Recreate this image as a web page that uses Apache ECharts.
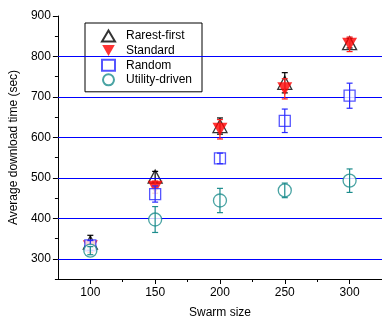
<!DOCTYPE html>
<html><head><meta charset="utf-8">
<script src="https://cdn.jsdelivr.net/npm/echarts@6/dist/echarts.min.js"></script>
<style>html,body{margin:0;padding:0;background:#fff}#c{width:382px;height:324px}</style>
</head><body><div id="c"></div>
<script>
const swarm = [100, 150, 200, 250, 300];
const rarestFirst = [340, 503, 628, 735, 833];
const rarestErr   = [18, 13, 20, 25, 12];
const standard    = [330, 477, 620, 720, 830];
const standardErr = [15, 15, 24, 25, 18];
const random      = [333, 460, 548, 641, 703];
const randomErr   = [12, 20, 13, 29, 31];
const utility     = [320, 397, 444, 469, 493];
const utilityErr  = [10, 32, 30, 18, 29];
const xMajor = [100, 150, 200, 250, 300];
const xMinor = [125, 175, 225, 275];
const yMajor = [300, 400, 500, 600, 700, 800, 900];
const yMinor = [250, 350, 450, 550, 650, 750, 850];
const yGrid  = [300, 400, 500, 600, 700, 800];

const FONT = 'Liberation Sans';
const INV_TRI = 'path://M0,0 L16,0 L8,14 Z';
const chart = echarts.init(document.getElementById('c'));

function pts(vals){ return swarm.map((x,i)=>[x, vals[i]]); }
function errs(vals, e){ return swarm.map((x,i)=>[x, vals[i]-e[i], vals[i]+e[i]]); }
function errSeries(name, vals, e, color, z){
  return {
    type:'custom', name: name+'_err', silent:true, z:z,
    data: errs(vals, e),
    encode:{x:0, y:[1,2]},
    renderItem:function(params, api){
      const lo = api.coord([api.value(0), api.value(1)]);
      const hi = api.coord([api.value(0), api.value(2)]);
      const w = 3;
      const st = {stroke: color, lineWidth: 1.2};
      return {type:'group', children:[
        {type:'line', shape:{x1:lo[0], y1:lo[1], x2:hi[0], y2:hi[1]}, style:st},
        {type:'line', shape:{x1:lo[0]-w, y1:lo[1], x2:lo[0]+w, y2:lo[1]}, style:st},
        {type:'line', shape:{x1:hi[0]-w, y1:hi[1], x2:hi[0]+w, y2:hi[1]}, style:st}
      ]};
    }
  };
}

const option = {
  animation:false,
  backgroundColor:'#fff',
  grid:{left:55, right:0, top:16, bottom:41},
  legend:{
    orient:'vertical', left:85, top:23,
    padding:[6, 10, 5, 16], itemGap:0.6,
    itemWidth:13, itemHeight:11,
    borderColor:'#000', borderWidth:1, backgroundColor:'#fff',
    textStyle:{fontFamily:FONT, fontSize:12, color:'#000', padding:[0,0,0,6], lineHeight:14},
    data:['Rarest-first','Standard','Random','Utility-driven']
  },
  xAxis:[{
    type:'value', min:75, max:325,
    name:'Swarm size', nameLocation:'middle', nameGap:28,
    nameTextStyle:{fontFamily:FONT, fontSize:12, color:'#000'},
    axisLine:{show:true, onZero:false, lineStyle:{color:'#000', width:1}},
    axisTick:{show:true, length:5, customValues:xMajor, lineStyle:{color:'#000'}},
    axisLabel:{customValues:xMajor, fontFamily:FONT, fontSize:12, color:'#000', margin:8},
    splitLine:{show:false}
  },{
    type:'value', min:75, max:325, position:'bottom',
    axisLine:{show:false},
    axisTick:{show:true, length:3, customValues:xMinor, lineStyle:{color:'#000'}},
    axisLabel:{show:false},
    splitLine:{show:false}
  }],
  yAxis:[{
    type:'value', min:250, max:900,
    name:'Average download time (sec)', nameLocation:'middle', nameGap:35,
    nameTextStyle:{fontFamily:FONT, fontSize:12, color:'#000'},
    axisLine:{show:true, onZero:false, lineStyle:{color:'#000', width:1}},
    axisTick:{show:true, length:5, customValues:yMajor, lineStyle:{color:'#000'}},
    axisLabel:{customValues:yMajor, fontFamily:FONT, fontSize:12, color:'#000', margin:7},
    splitLine:{show:false}
  },{
    type:'value', min:250, max:900, position:'left',
    axisLine:{show:false},
    axisTick:{show:true, length:3, customValues:yMinor, lineStyle:{color:'#000'}},
    axisLabel:{show:false},
    splitLine:{show:false}
  }],
  series:[
    {
      type:'line', name:'grid', data:[], silent:true, z:1,
      markLine:{
        silent:true, symbol:'none', animation:false,
        label:{show:false},
        lineStyle:{color:'#0000ff', width:1.2, type:'solid'},
        data: yGrid.map(v=>({yAxis:v}))
      }
    },
    {
      type:'scatter', name:'Rarest-first', data:pts(rarestFirst), z:2,
      symbol:'triangle', symbolSize:[14,13],
      itemStyle:{color:'#fff', borderColor:'#000', borderWidth:1.3}
    },
    errSeries('Rarest-first', rarestFirst, rarestErr, '#000', 3),
    {
      type:'scatter', name:'Standard', data:pts(standard), z:4,
      symbol:INV_TRI, symbolSize:[15,13], symbolKeepAspect:false,
      itemStyle:{color:'#ff0000', borderColor:'#ff0000', borderWidth:0}
    },
    errSeries('Standard', standard, standardErr, '#ff2020', 5),
    {
      type:'scatter', name:'Random', data:pts(random), z:6,
      symbol:'rect', symbolSize:11,
      itemStyle:{color:'#fff', borderColor:'#2a2aff', borderWidth:1.3}
    },
    errSeries('Random', random, randomErr, '#2a2aff', 7),
    {
      type:'scatter', name:'Utility-driven', data:pts(utility), z:8,
      symbol:'circle', symbolSize:13,
      itemStyle:{color:'#fff', borderColor:'#1c8c8c', borderWidth:1.3}
    },
    errSeries('Utility-driven', utility, utilityErr, '#1c8c8c', 9)
  ]
};
chart.setOption(option);
</script>
</body></html>
